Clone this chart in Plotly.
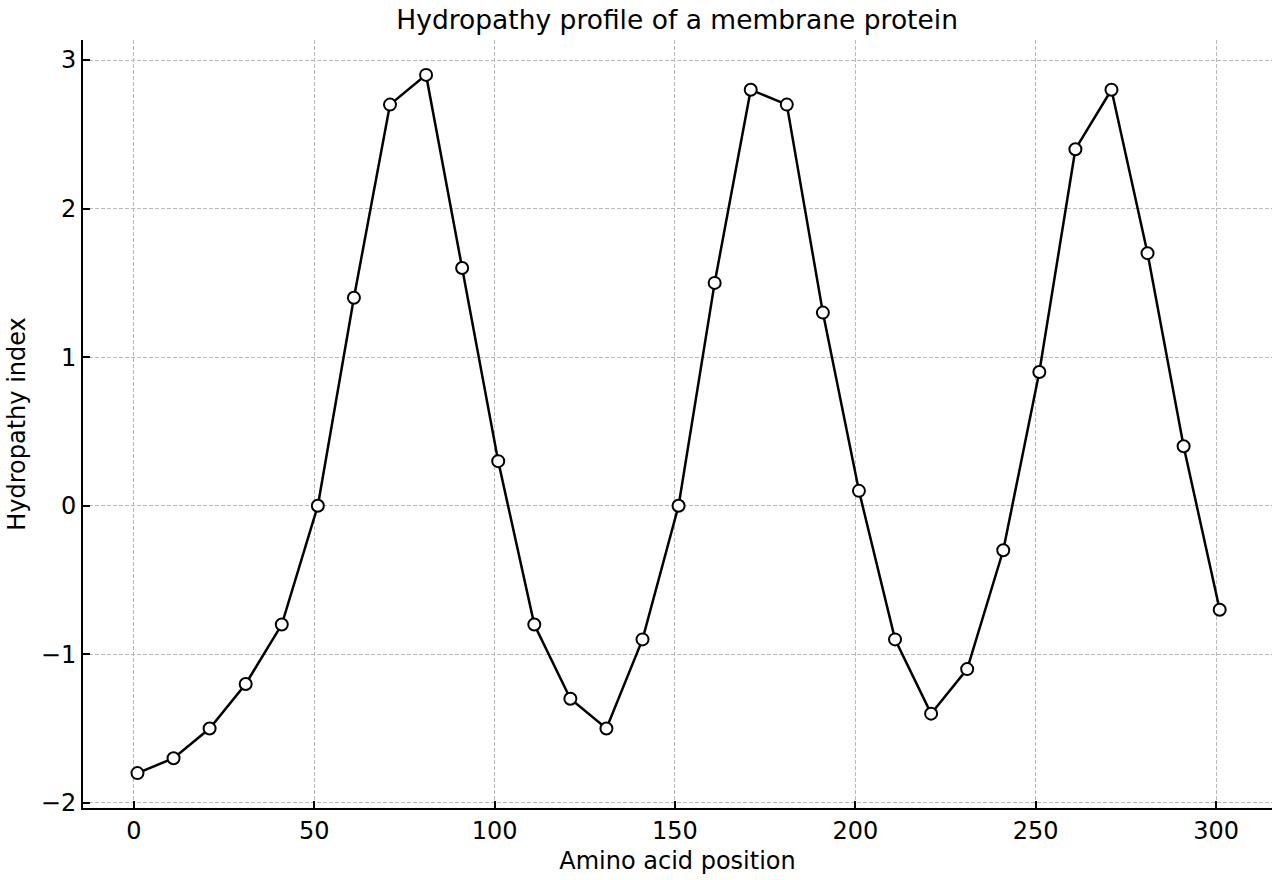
import plotly.graph_objects as go

positions = [1, 11, 21, 31, 41, 51, 61, 71, 81, 91, 101, 111, 121, 131, 141, 151,
             161, 171, 181, 191, 201, 211, 221, 231, 241, 251, 261, 271, 281, 291, 301]
hydropathy = [-1.8, -1.7, -1.5, -1.2, -0.8, 0.0, 1.4, 2.7, 2.9, 1.6, 0.3, -0.8, -1.3, -1.5, -0.9, 0.0,
              1.5, 2.8, 2.7, 1.3, 0.1, -0.9, -1.4, -1.1, -0.3, 0.9, 2.4, 2.8, 1.7, 0.4, -0.7]
x_ticks = [0, 50, 100, 150, 200, 250, 300]
y_ticks = [-2, -1, 0, 1, 2, 3]

font = "DejaVu Sans"

fig = go.Figure()
fig.add_trace(go.Scatter(
    x=positions, y=hydropathy, mode="lines+markers",
    line=dict(color="black", width=2.5),
    marker=dict(size=12, color="white", line=dict(color="black", width=2)),
    showlegend=False,
))

axis_common = dict(
    showline=True, linecolor="black", linewidth=2, mirror=False,
    ticks="inside", ticklen=7, tickwidth=2, tickcolor="black",
    showgrid=True, gridcolor="#b8b8b8", gridwidth=1, griddash="4px,2px",
    zeroline=False, tickfont=dict(family=font, size=24, color="black"),
)

fig.update_layout(
    width=1280, height=880,
    margin=dict(l=83, r=8, t=40, b=72),
    paper_bgcolor="white", plot_bgcolor="white",
    font=dict(family=font, color="black"),
    title=dict(text="Hydropathy profile of a membrane protein", x=0.529, xanchor="center",
               y=0.978, yanchor="middle", font=dict(family=font, size=26.5, color="black")),
    xaxis=dict(range=[-14.1, 315.5], tickvals=x_ticks,
               title=dict(text="Amino acid position", font=dict(family=font, size=24), standoff=8),
               **axis_common),
    yaxis=dict(range=[-2.035, 3.135], tickvals=y_ticks,
               title=dict(text="Hydropathy index", font=dict(family=font, size=24), standoff=8),
               **axis_common),
)

fig.write_html("out.html")
